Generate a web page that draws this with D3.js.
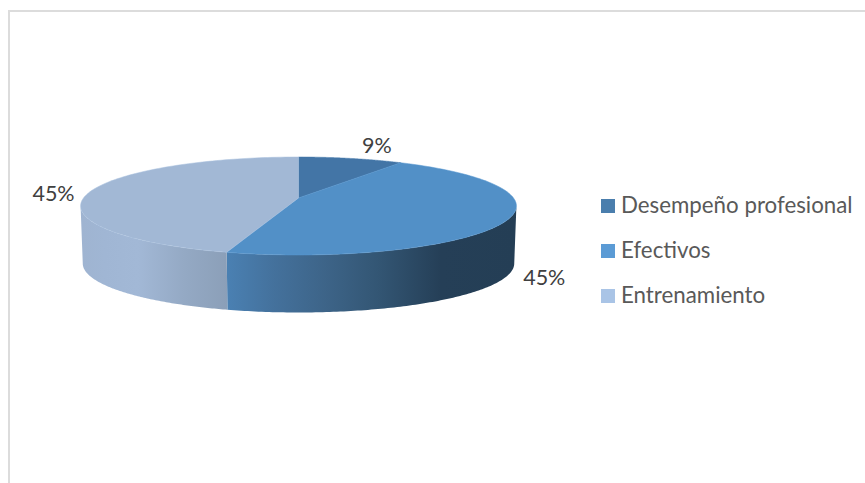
<!DOCTYPE html>
<html>
<head>
<meta charset="utf-8">
<script src="https://cdn.jsdelivr.net/npm/d3@7"></script>
<style>
	html, body { margin: 0; padding: 0; background: #fff; overflow: hidden; }
	svg { display: block; }
	text { font-family: Lato, "Open Sans", sans-serif; }
</style>
</head>
<body>
<div id="chart"></div>
<script>
// Chart data
var categories = ["Desempeño profesional", "Efectivos", "Entrenamiento"];
var percents = [9, 45, 45];
var labels = ["9%", "45%", "45%"];

var topColors = ["#4375a6", "#5290c7", "#a2b8d5"];
var legendColors = ["#4a7ead", "#5b9bd5", "#a9c4e6"];

var width = 865;
var height = 483;

var svg = d3.select("#chart")
	.append("svg")
	.attr("width", width)
	.attr("height", height)
	.attr("viewBox", [0, 0, width, height]);

// Frame of the chart area, only top and left show in the picture
svg.append("rect").attr("x", 8).attr("y", 10).attr("width", width).attr("height", 2).attr("fill", "#dcdcdc");
svg.append("rect").attr("x", 8).attr("y", 10).attr("width", 2).attr("height", height).attr("fill", "#dcdcdc");

// Tilted circle with perspective: the pie centre sits above the middle of the ellipse
var cx = 298.5, cy = 198;
var radiusX = 215, radiusY = 47.7, persp = 0.163;
var depth = 57.5, bottomShrink = 0.99;

function rim(angle) {
	var u = Math.sin(angle), v = -Math.cos(angle);
	var w = 1 - persp * v;
	return [cx + radiusX * u / w, cy + radiusY * v / w];
}
function rimBottom(angle) {
	var p = rim(angle);
	return [cx + (p[0] - cx) * bottomShrink, p[1] + depth];
}

var pie = d3.pie().sort(null).value(function (d) { return d; });
var arcs = pie(percents);
var line = d3.line();

function anglesBetween(a0, a1) {
	return d3.range(0, 121).map(function (i) {
		return a0 + (a1 - a0) * i / 120;
	});
}

// Only the part of the rim that faces the viewer has a visible wall
var frontStart = Math.acos(-persp);
var frontEnd = 2 * Math.PI - frontStart;

// Gradients of the side wall
var defs = svg.append("defs");
var wallStops = [
	[[0, "#3f6f9e"], [1, "#3f6f9e"]],
	[[0, "#4a80b2"], [0.16, "#44719c"], [0.34, "#3d6488"], [0.52, "#335674"], [0.74, "#253f57"], [1, "#243e55"]],
	[[0, "#8b9fb8"], [0.3, "#94a9c4"], [0.62, "#a2b8d6"], [0.85, "#a0b6d4"], [1, "#9fb4d1"]]
];
var wallRange = [[298, 400], [228, 516], [83, 228]];
wallStops.forEach(function (stops, i) {
	var g = defs.append("linearGradient")
		.attr("id", "wall" + i)
		.attr("gradientUnits", "userSpaceOnUse")
		.attr("x1", i == 2 ? wallRange[i][1] : wallRange[i][0]).attr("y1", 0)
		.attr("x2", i == 2 ? wallRange[i][0] : wallRange[i][1]).attr("y2", 0);
	g.selectAll("stop").data(stops).enter().append("stop")
		.attr("offset", function (s) { return s[0]; })
		.attr("stop-color", function (s) { return s[1]; });
});

// Side walls first, then the top faces
svg.append("g").selectAll("path")
	.data(arcs.filter(function (d) { return d.endAngle > frontStart && d.startAngle < frontEnd; }))
	.enter()
	.append("path")
	.attr("d", function (d) {
		var angles = anglesBetween(Math.max(d.startAngle, frontStart), Math.min(d.endAngle, frontEnd));
		var pts = angles.map(rim).concat(angles.slice().reverse().map(rimBottom));
		return line(pts) + "Z";
	})
	.attr("fill", function (d) { return "url(#wall" + d.index + ")"; });

// Top faces
svg.append("g").selectAll("path")
	.data(arcs)
	.enter()
	.append("path")
	.attr("d", function (d) {
		return line([[cx, cy]].concat(anglesBetween(d.startAngle, d.endAngle).map(rim))) + "Z";
	})
	.attr("fill", function (d) { return topColors[d.index]; })
	.attr("stroke", function (d) { return d3.color(topColors[d.index]).brighter(0.12); })
	.attr("stroke-width", 0.5);

// Data labels, placed from the rim point at the middle of each slice
var labelNudge = [[26, -13.5], [36, 58], [-37, 2]];
svg.append("g").selectAll("text")
	.data(arcs)
	.enter()
	.append("text")
	.attr("x", function (d) { return rim((d.startAngle + d.endAngle) / 2)[0] + labelNudge[d.index][0]; })
	.attr("y", function (d) { return rim((d.startAngle + d.endAngle) / 2)[1] + labelNudge[d.index][1]; })
	.attr("text-anchor", "middle")
	.attr("dominant-baseline", "central")
	.attr("font-size", 21.5)
	.attr("fill", "#404040")
	.text(function (d) { return labels[d.index]; });

// Legend
var legendY = d3.scalePoint().domain(categories).range([206, 296]);
var legend = svg.append("g").selectAll("g")
	.data(categories)
	.enter()
	.append("g")
	.attr("transform", function (d) { return "translate(601," + legendY(d) + ")"; });
legend.append("rect")
	.attr("x", 0).attr("y", -7).attr("width", 14).attr("height", 14)
	.attr("fill", function (d, i) { return legendColors[i]; });
legend.append("text")
	.attr("x", 20).attr("y", -1.5)
	.attr("dominant-baseline", "central")
	.attr("font-size", 22.3)
	.attr("fill", "#595959")
	.text(function (d) { return d; });
</script>
</body>
</html>
